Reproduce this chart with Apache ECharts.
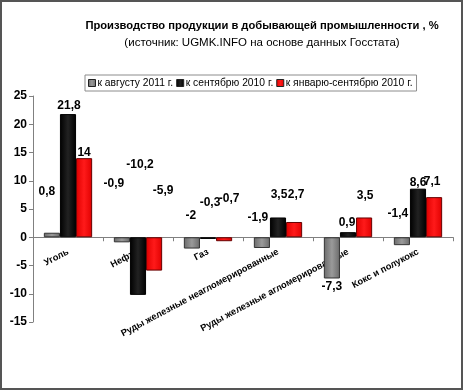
<!DOCTYPE html>
<html><head><meta charset="utf-8">
<script src="https://cdn.jsdelivr.net/npm/echarts@6/dist/echarts.min.js"></script>
<style>html,body{margin:0;padding:0;background:#fff}#c{width:463px;height:390px}</style>
</head><body><div id="c"></div>
<script>
const categories = ['Уголь','Нефть','Газ','Руды железные неагломерированные','Руды железные агломерированные','Кокс и полукокс'];
const seriesNames = ['к августу 2011 г.','к сентябрю 2010 г.','к январю-сентябрю 2010 г.'];
const aug2011 = [0.8, -0.9, -2, -1.9, -7.3, -1.4];
const sep2010 = [21.8, -10.2, -0.3, 3.5, 0.9, 8.6];
const janSep2010 = [14, -5.9, -0.7, 2.7, 3.5, 7.1];
const yTicks = [-15, -10, -5, 0, 5, 10, 15, 20, 25];

// label placement (layout only): height on value axis where each label sits, and horizontal nudge in px
const labelAt = [
  [8.1, 9.4, 3.9, 3.4, -8.7, 4.2],
  [23.2, 12.9, 6.2, 7.6, 2.65, 9.6],
  [14.9, 8.3, 6.9, 7.6, 7.4, 9.9]
];
const labelDx = [
  [-5, -8, -1, -4, 0, -4],
  [1, 2, 2, 1, -1, 0],
  [0, 9, 5, 2, 1, -2]
];

const values = [aug2011, sep2010, janSep2010];
const colors = [
  new echarts.graphic.LinearGradient(0,0,1,0,[{offset:0,color:'#6a6a6a'},{offset:0.5,color:'#9a9a9a'},{offset:1,color:'#6a6a6a'}]),
  new echarts.graphic.LinearGradient(0,0,1,0,[{offset:0,color:'#000'},{offset:0.5,color:'#222'},{offset:1,color:'#000'}]),
  new echarts.graphic.LinearGradient(0,0,1,0,[{offset:0,color:'#e00000'},{offset:0.5,color:'#ff1a1a'},{offset:1,color:'#e00000'}])
];
const legendColors = ['#7f7f7f','#000000','#ff0000'];
const borders = ['#333','#000','#600'];
const font = '"Liberation Sans", Arial, sans-serif';

const chart = echarts.init(document.getElementById('c'));

function buildSeries(offsets) {
  return values.map((arr, s) => ({
    name: seriesNames[s],
    type: 'bar',
    barGap: '0%',
    barCategoryGap: '31%',
    z: 3,
    color: legendColors[s],
    itemStyle: { color: colors[s], borderColor: borders[s], borderWidth: 1 },
    data: arr.map((v, i) => ({
      value: v,
      label: {
        show: true,
        position: 'inside',
        offset: offsets ? [labelDx[s][i], offsets[s][i]] : [0, 0],
        formatter: () => String(v).replace('.', ','),
        color: '#000',
        fontWeight: 'bold',
        fontSize: 12,
        fontFamily: font
      }
    }))
  }));
}

function xAxisOpt(off) {
  return {
    type: 'category',
    data: categories,
    position: 'bottom',
    offset: off,
    axisLine: { onZero: false, lineStyle: { color: '#808080', width: 1 } },
    axisTick: { show: true, length: 4, lineStyle: { color: '#808080' } },
    axisLabel: { rotate: 28, interval: 0, color: '#000', fontWeight: 'bold', fontSize: 9.3, fontFamily: font, margin: 14 },
    z: 1
  };
}

const option = {
  animation: false,
  backgroundColor: '#fff',
  textStyle: { fontFamily: font },
  title: [
    { text: 'Производство продукции в добывающей промышленности , %', left: 257, top: 15, textAlign: 'center',
      textStyle: { fontSize: 11.2, fontWeight: 'bold', color: '#000', fontFamily: font } },
    { text: '(источник: UGMK.INFO на основе данных Госстата)', left: 257, top: 32, textAlign: 'center',
      textStyle: { fontSize: 11.5, fontWeight: 'normal', color: '#000', fontFamily: font } }
  ],
  legend: {
    left: 85, top: 75,
    padding: [3, 4, 3, 3],
    borderColor: '#8c8c8c', borderWidth: 1,
    itemWidth: 7, itemHeight: 7, itemGap: 3,
    icon: 'rect',
    data: seriesNames,
    textStyle: { fontSize: 10.3, color: '#000', fontFamily: font, padding: [0, 0, 0, -3] },
    itemStyle: { borderColor: '#222', borderWidth: 1 }
  },
  grid: { left: 33, right: 10, top: 96, bottom: 68, containLabel: false, outerBoundsMode: 'none' },
  xAxis: xAxisOpt(0),
  yAxis: {
    type: 'value',
    min: -15, max: 25, interval: 5,
    axisLine: { show: true, lineStyle: { color: '#808080' } },
    axisTick: { show: true, length: 4, lineStyle: { color: '#808080' } },
    splitLine: { show: false },
    axisLabel: { color: '#000', fontWeight: 'bold', fontSize: 12, fontFamily: font, margin: 6,
      customValues: yTicks }
  },
  graphic: [{ type: 'rect', shape: { x: 1, y: 1, width: 461, height: 388 }, style: { fill: 'none', stroke: '#555', lineWidth: 2 }, z: 100 }],
  series: buildSeries(null)
};
chart.setOption(option);

// compute label offsets and the zero line via the axis scale
const offsets = values.map((arr, s) => arr.map((v, i) => {
  const mid = chart.convertToPixel({ yAxisIndex: 0 }, v / 2);
  const tgt = chart.convertToPixel({ yAxisIndex: 0 }, labelAt[s][i]);
  return tgt - mid;
}));
const zeroPx = chart.convertToPixel({ yAxisIndex: 0 }, 0);
const bottomPx = chart.convertToPixel({ yAxisIndex: 0 }, -15);
chart.setOption({ xAxis: xAxisOpt(zeroPx - bottomPx), series: buildSeries(offsets) });
</script></body></html>
